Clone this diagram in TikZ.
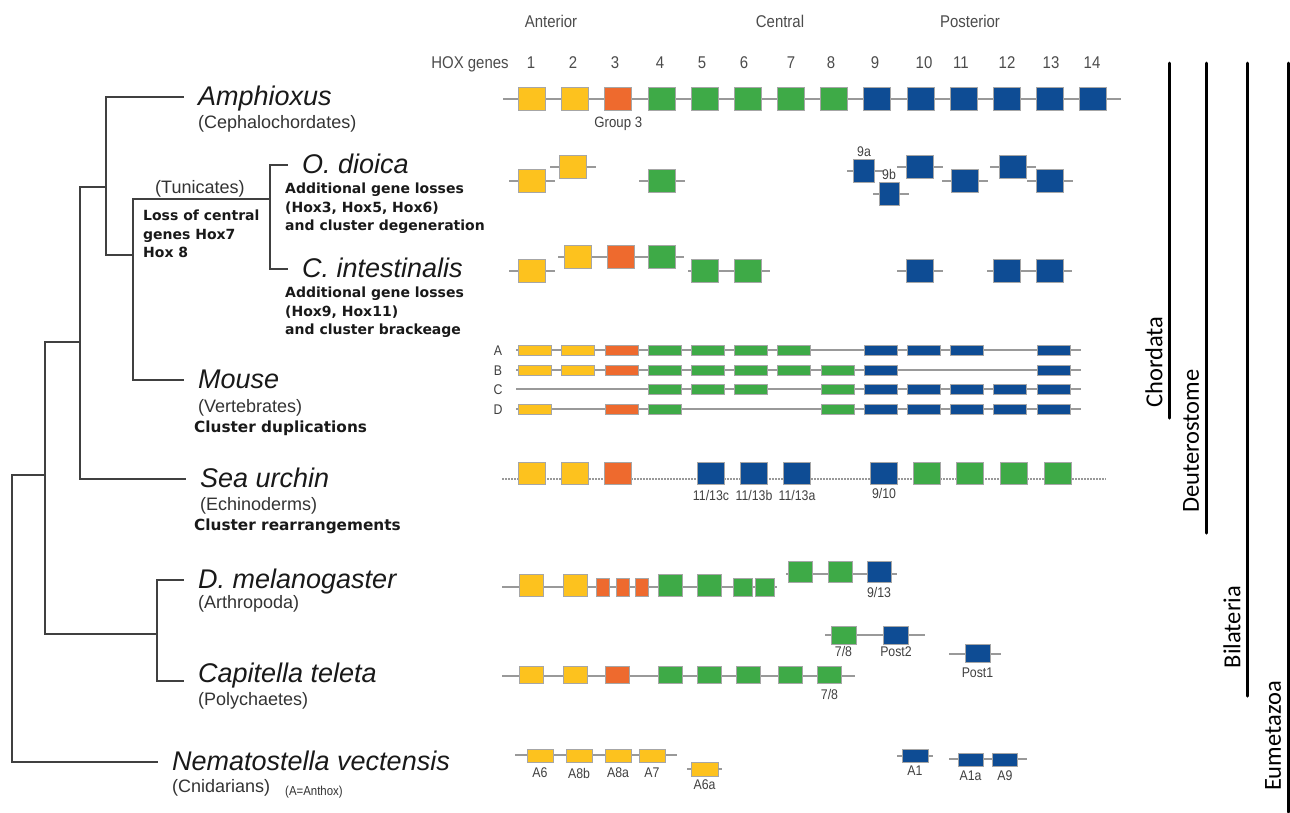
\documentclass[tikz,border=0pt]{standalone}
\usepackage{fontspec}
\setmainfont{Liberation Sans}
\newfontfamily\notefont{DejaVu Sans}
\newfontfamily\narrowfont[FakeStretch=0.88]{Liberation Sans}
\newfontfamily\cladefont{Carlito}
\usepackage{tikz}
\usetikzlibrary{positioning}

\definecolor{hoxyellow}{HTML}{FDC21E}
\definecolor{hoxorange}{HTML}{EE6A2E}
\definecolor{hoxgreen}{HTML}{3EAA47}
\definecolor{hoxblue}{HTML}{0E4C94}

\begin{document}
\begin{tikzpicture}[x=1pt,y=-1pt,
gene/.style={rectangle,draw=gray!70,line width=0.7pt,inner sep=0pt,minimum width=27pt,minimum height=23pt},
antgene/.style={gene,fill=hoxyellow},
grpgene/.style={gene,fill=hoxorange},
cengene/.style={gene,fill=hoxgreen},
posgene/.style={gene,fill=hoxblue},
flatgene/.style={minimum width=33pt,minimum height=10pt},
cluster/.style={gray!80,line width=1.3pt},
dotcluster/.style={gray!80,line width=1.1pt,dash pattern=on 1.5pt off 1.5pt},
branch/.style={black!75,line width=1.4pt},
tipbranch/.style={branch,shorten >=14pt},
species/.style={anchor=base west,inner sep=0pt,text height=20pt,text depth=4pt,font=\fontsize{27}{30}\selectfont\itshape,text=black!90},
taxon/.style={anchor=base west,inner sep=0pt,font=\fontsize{18}{21}\selectfont,text=black!80},
note/.style={anchor=north west,inner sep=0pt,align=left,font=\notefont\bfseries\fontsize{14}{18.7}\selectfont,text=black!90},
headlab/.style={anchor=base,inner sep=0pt,font=\narrowfont\fontsize{17}{20}\selectfont,text=black!70},
genelab/.style={inner sep=0pt,font=\narrowfont\fontsize{14}{16}\selectfont,text=black!75},
clade/.style={line width=3pt,line cap=round},
cladelab/.style={rotate=90,inner sep=0pt,font=\cladefont\fontsize{24.5}{28}\selectfont}
]

\path[fill=white,use as bounding box] (0,0) rectangle (1290,812);

%% Header %%%%%%%%%%%%%%%%%%%%%%%%%%%%%%%%%%%%%%%%%%%%%%%%%%%%%%%%%%%%%%%%%%%%%%%%%%
\node[headlab] (Anterior)  at (551,27) {Anterior};
\node[headlab] (Central)   at (780,27) {Central};
\node[headlab] (Posterior) at (970,27) {Posterior};
\node[headlab] (HOXgenes)  at (470,68) {HOX genes};
\foreach \n/\x in {1/531,2/573,3/615,4/660,5/702,6/744,7/791,8/831,9/875,10/924,11/961,12/1007,13/1051,14/1092}
\node[headlab] (Num\n) at (\x,68) {\n};

%% Species & Taxa %%%%%%%%%%%%%%%%%%%%%%%%%%%%%%%%%%%%%%%%%%%%%%%%%%%%%%%%%%%%%%%%%%
\node[species] (Amph)   at (198,105) {Amphioxus};
\node[species] (Dioica) at (302,173) {O. dioica};
\node[species] (Ciona)  at (302,277) {C. intestinalis};
\node[species] (Mouse)  at (198,388) {Mouse};
\node[species] (Urchin) at (200,487) {Sea urchin};
\node[species] (Dmel)   at (198,588) {D. melanogaster};
\node[species] (Capi)   at (198,682) {Capitella teleta};
\node[species] (Nema)   at (172,770) {Nematostella vectensis};

\node[taxon] (Ceph)  at (198,128) {(Cephalochordates)};
\node[taxon] (Tunic) at (155,193) {(Tunicates)};
\node[taxon] (Vert)  at (198,412) {(Vertebrates)};
\node[taxon] (Echi)  at (200,510) {(Echinoderms)};
\node[taxon] (Arth)  at (198,608) {(Arthropoda)};
\node[taxon] (Poly)  at (198,705) {(Polychaetes)};
\node[taxon] (Cnid)  at (172,792) {(Cnidarians)};
\node[taxon,font=\narrowfont\fontsize{13}{15}\selectfont] (Antho) at (285,795) {(A=Anthox)};

%% Events
\node[note] (LossTun) at (143,209.5) {Loss of central\\genes Hox7\\Hox 8};
\node[note] (LossOik) at (285,182.5) {Additional gene losses\\(Hox3, Hox5, Hox6)\\and cluster degeneration};
\node[note] (LossCio) at (285,286.5) {Additional gene losses\\(Hox9, Hox11)\\and cluster brackeage};
\node[note,anchor=base west,font=\notefont\bfseries\fontsize{15.3}{18}\selectfont] (DupMus) at (194,432) {Cluster duplications};
\node[note,anchor=base west,font=\notefont\bfseries\fontsize{15.3}{18}\selectfont] (RarUrc) at (194,530) {Cluster rearrangements};

%% Tree %%%%%%%%%%%%%%%%%%%%%%%%%%%%%%%%%%%%%%%%%%%%%%%%%%%%%%%%%%%%%%%%%%%%%%%%%%%%
\coordinate (nRoot) at (12,619);
\coordinate (nBil)  at (45,475);
\coordinate (nDeu)  at (80,342);
\coordinate (nPro)  at (157,634);
\coordinate (nCho)  at (106,187);
\coordinate (nOlf)  at (133,255);
\coordinate (nTun)  at (270,199);

\draw[branch]    (nRoot) |- (nBil);
\draw[tipbranch] (nRoot) |- (Nema.west);
\draw[branch]    (nBil)  |- (nDeu);
\draw[branch]    (nBil)  |- (nPro);
\draw[branch]    (nDeu)  |- (nCho);
\draw[tipbranch] (nDeu)  |- (Urchin.west);
\draw[tipbranch] (nCho)  |- (Amph.west);
\draw[branch]    (nCho)  |- (nOlf);
\draw[branch]    (nOlf)  |- (nTun);
\draw[tipbranch] (nOlf)  |- (Mouse.west);
\draw[tipbranch] (nTun)  |- (Dioica.west);
\draw[tipbranch] (nTun)  |- (Ciona.west);
\draw[tipbranch] (nPro)  |- (Dmel.west);
\draw[tipbranch] (nPro)  |- ([yshift=-7pt]Capi.west);

%% Hox clusters %%%%%%%%%%%%%%%%%%%%%%%%%%%%%%%%%%%%%%%%%%%%%%%%%%%%%%%%%%%%%%%%%%%%

%% Amphioxus
\coordinate (AmxL) at (503,99);
\coordinate (AmxR) at (1121,99);
\draw[cluster] (AmxL) -- (AmxR);
\foreach \n/\g in {1/antgene,2/antgene,3/grpgene,4/cengene,5/cengene,6/cengene,7/cengene,8/cengene,9/posgene,10/posgene,11/posgene,12/posgene,13/posgene,14/posgene}
\node[\g] (Amx\n) at ({532+43.15*(\n-1)},99) {};
\node[genelab,font=\narrowfont\fontsize{15}{17}\selectfont] (Grp3) [below=6pt of Amx3] {Group 3};

%% O. dioica
\foreach \n/\x/\y/\g in {1/532/181/antgene,2/573/167/antgene,4/662/181/cengene,10/920/167/posgene,11/965/181/posgene,12/1013/167/posgene,13/1050/181/posgene}
{\node[\g] (Oik\n) at (\x,\y) {};
 \draw[cluster] (Oik\n.west) -- +(-9,0) (Oik\n.east) -- +(9,0);}
\node[posgene,minimum width=21pt] (Oik9a) at (864,171) {};
\node[posgene,minimum width=20pt] (Oik9b) at (889,194) {};
\draw[cluster] (Oik9a.west) -- +(-6,0) (Oik9a.east) -- +(8,0);
\draw[cluster] (Oik9b.west) -- +(-6,0) (Oik9b.east) -- +(10,0);
\node[genelab] (Lab9a) [above=2pt of Oik9a] {9a};
\node[genelab] (Lab9b) [above=2pt of Oik9b] {9b};

%% C. intestinalis
\coordinate (CioL1) at (558,257);
\coordinate (CioR1) at (684,257);
\coordinate (CioL2) at (688,271);
\coordinate (CioR2) at (770,271);
\coordinate (CioL3) at (987,271);
\coordinate (CioR3) at (1072,271);
\draw[cluster] (CioL1) -- (CioR1);
\draw[cluster] (CioL2) -- (CioR2);
\draw[cluster] (CioL3) -- (CioR3);
\foreach \n/\x/\y/\g in {1/532/271/antgene,2/578/257/antgene,3/621/257/grpgene,4/662/257/cengene,5/705/271/cengene,6/748/271/cengene,10/920/271/posgene,12/1007/271/posgene,13/1050/271/posgene}
\node[\g] (Cio\n) at (\x,\y) {};
\draw[cluster] (Cio1.west) -- +(-9,0) (Cio1.east) -- +(9,0);
\draw[cluster] (Cio10.west) -- +(-9,0) (Cio10.east) -- +(9,0);

%% Mouse
\foreach \r/\y in {A/350,B/370,C/389,D/409}
{\coordinate (Mus\r-L) at (516,\y);
 \coordinate (Mus\r-R) at (1081,\y);
 \draw[cluster] (Mus\r-L) -- (Mus\r-R);
 \node[genelab,font=\narrowfont\fontsize{14}{16}\selectfont] (Lab\r) at (498,\y+1) {\r};}
\foreach \n/\g in {1/antgene,2/antgene,3/grpgene,4/cengene,5/cengene,6/cengene,7/cengene,9/posgene,10/posgene,11/posgene,13/posgene}
\node[\g,flatgene] (MusA\n) at ({535+43.2*(\n-1)},350) {};
\foreach \n/\g in {1/antgene,2/antgene,3/grpgene,4/cengene,5/cengene,6/cengene,7/cengene,8/cengene,9/posgene,13/posgene}
\node[\g,flatgene] (MusB\n) at ({535+43.2*(\n-1)},370) {};
\foreach \n/\g in {4/cengene,5/cengene,6/cengene,8/cengene,9/posgene,10/posgene,11/posgene,12/posgene,13/posgene}
\node[\g,flatgene] (MusC\n) at ({535+43.2*(\n-1)},389) {};
\foreach \n/\g in {1/antgene,3/grpgene,4/cengene,8/cengene,9/posgene,10/posgene,11/posgene,12/posgene,13/posgene}
\node[\g,flatgene] (MusD\n) at ({535+43.2*(\n-1)},409) {};

%% Sea urchin
\coordinate (UrcL) at (502,479);
\coordinate (UrcR) at (1106,479);
\draw[dotcluster] (UrcL) -- (UrcR);
\foreach \n/\x/\g in {1/532/antgene,2/575/antgene,3/618/grpgene,5/711/posgene,6/754/posgene,7/797/posgene,9/884/posgene,10/927/cengene,11/970/cengene,12/1014/cengene,13/1058/cengene}
\node[\g,minimum height=22pt] (Urc\n) at (\x,473) {};
\node[genelab] (Lab13c) [below=6pt of Urc5] {11/13c};
\node[genelab] (Lab13b) [below=6pt of Urc6] {11/13b};
\node[genelab] (Lab13a) [below=6pt of Urc7] {11/13a};
\node[genelab] (Lab910) [below=4pt of Urc9] {9/10};

%% D. melanogaster
\coordinate (DmeL1) at (502,587);
\coordinate (DmeR1) at (777,587);
\coordinate (DmeL2) at (786,574);
\coordinate (DmeR2) at (897,574);
\draw[cluster] (DmeL1) -- (DmeR1);
\draw[cluster] (DmeL2) -- (DmeR2);
\foreach \n/\x/\g in {1/531/antgene,2/575/antgene,4/670/cengene,5/709/cengene}
\node[\g,minimum width=24pt,minimum height=22pt] (Dme\n) at (\x,585) {};
\foreach \n/\x in {3a/602.5,3b/622.5,3c/641.5}
\node[grpgene,minimum width=13pt,minimum height=18pt] (Dme\n) at (\x,587) {};
\foreach \n/\x in {6a/742.5,6b/764.5}
\node[cengene,minimum width=19pt,minimum height=18pt] (Dme\n) at (\x,587) {};
\foreach \n/\x/\g in {7/800/cengene,8/840/cengene,9/879/posgene}
\node[\g,minimum width=24pt,minimum height=21pt] (Dme\n) at (\x,571.5) {};
\node[genelab] (Lab913) [below=5pt of Dme9] {9/13};

%% Capitella teleta
\coordinate (CapL1) at (502,676);
\coordinate (CapR1) at (855,676);
\coordinate (CapL2) at (825,635);
\coordinate (CapR2) at (925,635);
\coordinate (CapL3) at (949,654);
\coordinate (CapR3) at (1001,654);
\draw[cluster] (CapL1) -- (CapR1);
\draw[cluster] (CapL2) -- (CapR2);
\draw[cluster] (CapL3) -- (CapR3);
\foreach \n/\x/\g in {1/531/antgene,2/575/antgene,3/617.5/grpgene,4/670/cengene,5/709/cengene,6/748/cengene,7/790.5/cengene,8/829.5/cengene}
\node[\g,minimum width=24pt,minimum height=17pt] (Cap\n) at (\x,675) {};
\node[cengene,minimum width=25pt,minimum height=18pt] (Cap78) at (843.5,635) {};
\node[posgene,minimum width=25pt,minimum height=18pt] (CapP2) at (896,635) {};
\node[posgene,minimum width=25pt,minimum height=18pt] (CapP1) at (977.5,653) {};
\node[genelab] (Lab78a) [below=5pt of Cap8] {7/8};
\node[genelab] (Lab78b) [below=2pt of Cap78] {7/8};
\node[genelab] (LabP2)  [below=2pt of CapP2] {Post2};
\node[genelab] (LabP1)  [below=5pt of CapP1] {Post1};

%% Nematostella vectensis
\coordinate (NemL1) at (515,755);
\coordinate (NemR1) at (677,755);
\coordinate (NemL2) at (949,759);
\coordinate (NemR2) at (1027,759);
\draw[cluster] (NemL1) -- (NemR1);
\draw[cluster] (NemL2) -- (NemR2);
\foreach \n/\x/\lab in {1/540/A6,2/579/A8b,3/618/A8a,4/652/A7}
{\node[antgene,minimum width=26pt,minimum height=13pt] (Nem\n) at (\x,756) {};
 \node[genelab] (NemLab\n) [below=5pt of Nem\n] {\lab};}
\node[antgene,minimum width=27pt,minimum height=14pt] (Nem5) at (704.5,769) {};
\draw[cluster] (Nem5.west) -- +(-4,0) (Nem5.east) -- +(4,0);
\node[genelab] (NemLab5) [below=3pt of Nem5] {A6a};
\node[posgene,minimum width=26pt,minimum height=13pt] (Nem6) at (915,756) {};
\draw[cluster] (Nem6.west) -- +(-5,0) (Nem6.east) -- +(5,0);
\node[genelab] (NemLab6) [below=3pt of Nem6] {A1};
\foreach \n/\x/\lab in {7/970.5/A1a,8/1005/A9}
{\node[posgene,minimum width=25pt,minimum height=13pt] (Nem\n) at (\x,760) {};
 \node[genelab] (NemLab\n) [below=4pt of Nem\n] {\lab};}

%% Clades %%%%%%%%%%%%%%%%%%%%%%%%%%%%%%%%%%%%%%%%%%%%%%%%%%%%%%%%%%%%%%%%%%%%%%%%%%
\foreach \c/\x/\yb/\yl/\lab in {Cho/1169/418/362/Chordata,Deu/1206/533/441/Deuterostome,Bil/1247/696/627/Bilateria,Eum/1288/812/736/Eumetazoa}
{\coordinate (\c T) at (\x,63);
 \coordinate (\c B) at (\x,\yb);
 \draw[clade] (\c T) -- (\c B);
 \node[cladelab] (\c Lab) at (\x-15,\yl) {\lab};}

\end{tikzpicture}
\end{document}
